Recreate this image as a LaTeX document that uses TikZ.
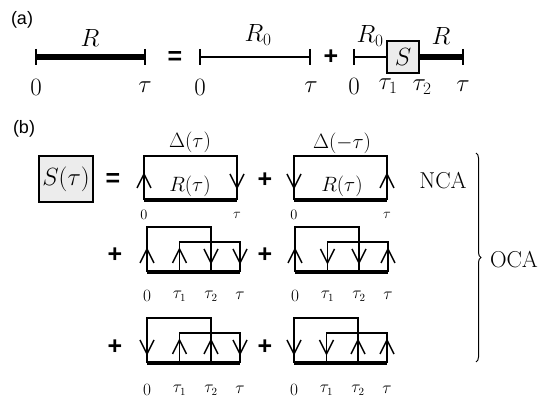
\documentclass[tikz,border=0pt]{standalone}
\usepackage{fontspec}
\setsansfont{Liberation Sans}
\usetikzlibrary{decorations.pathreplacing}
\begin{document}
\begin{tikzpicture}[x=1pt,y=-1pt,
  thinl/.style={line width=1.5pt},
  thickl/.style={line width=4.5pt},
  heavyl/.style={line width=6.5pt},
  arr/.style={line width=1.4pt,line join=miter},
  uparr/.pic={\draw[arr] (-7,7) -- (0,-7) -- (7,7);},
  dnarr/.pic={\draw[arr] (-7,-7) -- (0,7) -- (7,-7);},
  panel/.style={font=\fontsize{18}{18}\selectfont\sffamily},
  op/.style={font=\fontsize{25}{25}\selectfont\sffamily\bfseries},
  biglab/.style={font=\fontsize{23}{23}\selectfont},
  midlab/.style={font=\fontsize{20}{20}\selectfont},
  rowlab/.style={font=\fontsize{16}{16}\selectfont},
  smalllab/.style={font=\fontsize{14}{14}\selectfont},
  inner sep=0pt]
\useasboundingbox (0,0) rectangle (539,398);

% ---------------- (a)
\node[panel] (pa) at (22,20) {(a)};
\coordinate (a1l) at (36,57);
\coordinate (a1r) at (145,57);
\draw[heavyl] (a1l) -- (a1r);
\draw[thinl] ([yshift=8pt]a1l) -- ([yshift=-8pt]a1l);
\draw[thinl] ([yshift=8pt]a1r) -- ([yshift=-8pt]a1r);
\node[biglab] (ra) at (90,38) {$R$};
\node[biglab] (z1) at (36,87) {$0$};
\node[biglab] (t1) at (145,87) {$\tau$};

\node[op] (eqa) at (175,58) {=};

\coordinate (a2l) at (200,57);
\coordinate (a2r) at (310,57);
\draw[thinl] (a2l) -- (a2r);
\draw[thinl] ([yshift=8pt]a2l) -- ([yshift=-8pt]a2l);
\draw[thinl] ([yshift=8pt]a2r) -- ([yshift=-8pt]a2r);
\node[biglab] (r0a) at (258,35) {$R_0$};
\node[biglab] (z2) at (200,87) {$0$};
\node[biglab] (t2) at (311,87) {$\tau$};

\node[op] (pla) at (331,57) {+};

\coordinate (a3l) at (354,57);
\coordinate (a3r) at (463,57);
\node[draw,line width=2pt,fill=gray!15,minimum width=32pt,minimum height=32pt,biglab] (sbox) at (403,57) {$S$};
\draw[thinl] (a3l) -- (sbox.west);
\draw[heavyl] (sbox.east) -- (a3r);
\draw[thinl] ([yshift=8pt]a3l) -- ([yshift=-8pt]a3l);
\draw[thinl] ([yshift=8pt]a3r) -- ([yshift=-8pt]a3r);
\node[biglab] (r0b) at (370,36) {$R_0$};
\node[biglab] (rb) at (441,36) {$R$};
\node[biglab] (z3) at (354,86) {$0$};
\node[biglab] (tt1) at (388,86) {$\tau_1$};
\node[biglab] (tt2) at (422,87) {$\tau_2$};
\node[biglab] (t3) at (463,86) {$\tau$};

% ---------------- (b)
\node[panel] (pb) at (24,129) {(b)};
\node[draw,line width=2pt,fill=gray!15,minimum width=54pt,minimum height=46pt,
      font=\fontsize{28}{28}\selectfont] (stau) at (66,179) {$S(\tau)$};
\node[op] (eqb) at (113,180) {=};

% NCA 1
\coordinate (n1l) at (144,200);
\coordinate (n1r) at (237,200);
\draw[thinl] (n1l) -- ++(0,-44) -| (n1r);
\draw[thickl] (n1l) -- (n1r);
\pic at (144,181) {uparr};
\pic at (237,181) {dnarr};
\node[midlab] (d1) at (190,142) {$\Delta(\tau)$};
\node[midlab] (rr1) at (190,186) {$R(\tau)$};
\node[smalllab] (n1z) at (144,215) {$0$};
\node[smalllab] (n1t) at (237,215) {$\tau$};

\node[op] (pl1) at (265,180) {+};

% NCA 2
\coordinate (n2l) at (294,200);
\coordinate (n2r) at (387,200);
\draw[thinl] (n2l) -- ++(0,-44) -| (n2r);
\draw[thickl] (n2l) -- (n2r);
\pic at (294,181) {dnarr};
\pic at (387,181) {uparr};
\node[midlab] (d2) at (342,143) {$\Delta(-\tau)$};
\node[midlab] (rr2) at (342,186) {$R(\tau)$};
\node[smalllab] (n2z) at (294,215) {$0$};
\node[smalllab] (n2t) at (387,215) {$\tau$};

\node[biglab] (nca) at (443,181) {NCA};

% OCA diagrams
\newcommand{\ocadiag}[8]{%
 \begin{scope}[shift={(#1,#2)}]
  \coordinate (#7a) at (0,0);
  \coordinate (#7b) at (32.5,0);
  \coordinate (#7c) at (64,0);
  \coordinate (#7d) at (93,0);
  \draw[thinl] (#7a) -- ++(0,-45) -| (#7c);
  \draw[thinl] (#7b) -- ++(0,-30) -| (#7d);
  \draw[thickl] (#7a) -- (#7d);
  \pic at (0,-16) {#3};
  \pic at (32.5,-16) {#4};
  \pic at (64,-16) {#5};
  \pic at (93,-16) {#6};
  \node[rowlab] (#7la) at (0,#8) {$0$};
  \node[rowlab] (#7lb) at (32.5,#8) {$\tau_1$};
  \node[rowlab] (#7lc) at (64,#8) {$\tau_2$};
  \node[rowlab] (#7ld) at (93,#8) {$\tau$};
 \end{scope}}

\node[op] (pl2) at (115,255) {+};
\ocadiag{147}{272}{uparr}{uparr}{dnarr}{dnarr}{oa}{24}
\node[op] (pl3) at (265,255) {+};
\ocadiag{295}{272}{uparr}{dnarr}{dnarr}{uparr}{ob}{24}

\node[op] (pl4) at (115,347) {+};
\ocadiag{147}{363}{dnarr}{uparr}{uparr}{dnarr}{oc}{27}
\node[op] (pl5) at (265,347) {+};
\ocadiag{294}{363}{dnarr}{dnarr}{uparr}{uparr}{od}{27}

% brace
\coordinate (bt) at (476,153);
\coordinate (bb) at (476,362);
\draw[line width=1pt,decorate,decoration={brace,amplitude=5pt}] (bt) -- (bb);
\node[biglab] (oca) at (514,260) {OCA};
\end{tikzpicture}
\end{document}
